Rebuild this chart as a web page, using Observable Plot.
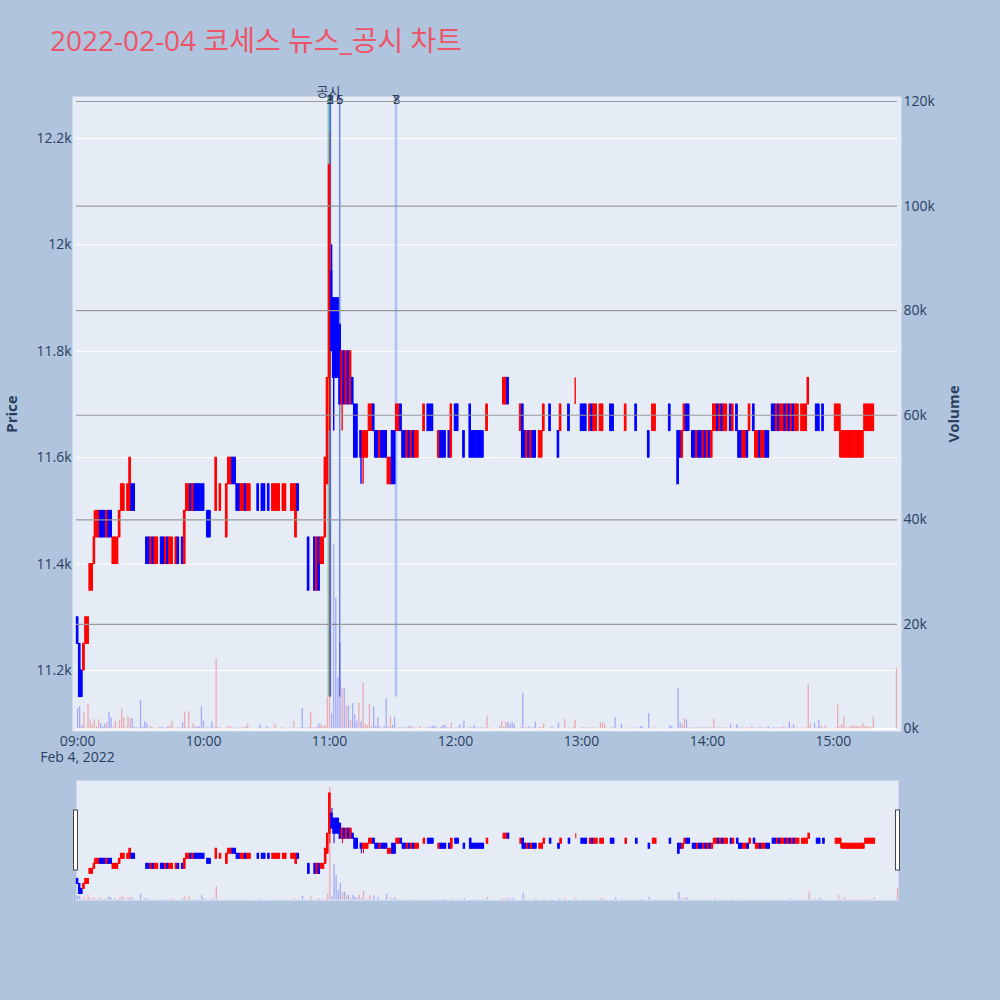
<!DOCTYPE html>
<html>
<head>
<meta charset="utf-8">
<script src="https://cdn.jsdelivr.net/npm/d3@7"></script>
<script src="https://cdn.jsdelivr.net/npm/@observablehq/plot@0.6"></script>
<style>
  body { margin: 0; background: #b0c4de; }
  #chart { position: relative; width: 1000px; height: 1000px; background: #b0c4de; font-family: "Open Sans", "Noto Sans CJK KR", sans-serif; }
  #title { position: absolute; left: 50px; top: 26px; font-size: 28px; line-height: 28px; color: #ee5468; white-space: nowrap; }
  .layer { position: absolute; left: 0; }
</style>
</head>
<body>
<div id="chart"><div id="title">2022-02-04 코세스 뉴스_공시 차트</div></div>
<script>
(() => {
// minute candles, index = minutes after 09:00 (09:00 .. 15:19)
const opens = [
  11300,11250,11200,11200,11250,11250,11350,11350,11400,11450,
  11450,11500,11500,11500,11450,11500,11500,11400,11400,11400,
  11450,11500,11500,11550,11500,11500,11550,11550,11500,11500,
  11450,11450,11450,11450,11450,11400,11450,11400,11400,11450,
  11450,11450,11400,11450,11400,11400,11450,11400,11450,11450,
  11450,11400,11500,11500,11550,11500,11550,11550,11550,11550,
  11550,11500,11500,11500,11450,11500,11500,11550,11500,11550,
  11550,11450,11550,11550,11600,11600,11550,11550,11500,11500,
  11550,11500,11500,11550,11550,11550,11550,11500,11550,11550,
  11500,11550,11500,11500,11500,11500,11500,11500,11500,11500,
  11500,11500,11500,11500,11450,11550,11450,11450,11450,11450,
  11450,11400,11400,11450,11350,11450,11400,11400,11450,11550,
  11750,11950,11900,11900,11900,11850,11700,11800,11700,11800,
  11700,11750,11700,11700,11650,11650,11600,11600,11600,11650,
  11650,11700,11650,11650,11600,11650,11650,11650,11550,11550,
  11650,11650,11650,11650,11700,11650,11650,11600,11650,11600,
  11650,11600,11600,11650,11650,11650,11700,11700,11700,11700,
  11650,11650,11600,11650,11650,11650,11600,11650,11600,11700,
  11700,11700,11650,11650,11650,11650,11700,11700,11650,11650,
  11650,11650,11650,11650,11650,11650,11650,11700,11700,11700,
  11700,11650,11700,11700,11700,11750,11700,11700,11700,11700,
  11700,11650,11700,11650,11600,11650,11600,11650,11650,11650,
  11600,11600,11650,11700,11700,11700,11650,11650,11650,11650,
  11650,11700,11700,11700,11700,11650,11700,11700,11700,11700,
  11700,11700,11700,11650,11650,11700,11650,11650,11700,11650,
  11650,11700,11700,11700,11700,11700,11650,11650,11650,11650,
  11650,11650,11650,11650,11650,11650,11700,11650,11650,11650,
  11650,11650,11650,11650,11650,11650,11700,11700,11650,11650,
  11650,11650,11700,11650,11650,11650,11650,11650,11600,11650,
  11700,11700,11650,11650,11650,11600,11650,11650,11600,11650,
  11600,11650,11600,11650,11650,11700,11650,11700,11650,11650,
  11700,11700,11650,11700,11700,11650,11650,11600,11600,11650,
  11650,11700,11700,11600,11600,11650,11600,11600,11650,11650,
  11650,11700,11700,11650,11700,11650,11650,11700,11650,11700,
  11650,11700,11650,11650,11700,11650,11650,11650,11700,11750,
  11700,11700,11700,11700,11700,11700,11700,11700,11700,11700,
  11700,11650,11650,11650,11600,11600,11600,11600,11600,11600,
  11600,11600,11600,11600,11600,11650,11650,11650,11650,11650
];
const closes = [
  11250,11150,11150,11250,11300,11300,11400,11400,11450,11500,
  11500,11450,11450,11450,11500,11450,11450,11450,11450,11450,
  11500,11550,11550,11550,11550,11600,11500,11500,11500,11500,
  11450,11450,11450,11400,11400,11450,11400,11450,11450,11450,
  11400,11400,11450,11400,11450,11450,11450,11450,11400,11450,
  11400,11500,11550,11550,11500,11550,11500,11500,11500,11500,
  11500,11500,11450,11450,11450,11500,11600,11550,11550,11550,
  11550,11550,11600,11600,11550,11550,11500,11500,11550,11550,
  11500,11550,11550,11550,11550,11550,11500,11500,11500,11500,
  11500,11500,11500,11550,11550,11550,11550,11500,11550,11550,
  11500,11500,11550,11550,11550,11500,11450,11450,11450,11450,
  11350,11400,11400,11350,11450,11350,11450,11450,11600,11750,
  12150,11800,11750,11750,11750,11700,11800,11700,11800,11700,
  11800,11700,11600,11600,11650,11600,11650,11650,11650,11700,
  11700,11650,11600,11600,11650,11600,11600,11600,11600,11600,
  11550,11550,11700,11700,11650,11600,11600,11650,11600,11650,
  11600,11650,11650,11650,11650,11700,11700,11650,11650,11650,
  11650,11650,11650,11600,11600,11600,11600,11600,11700,11700,
  11650,11650,11650,11650,11600,11650,11700,11600,11600,11600,
  11600,11600,11600,11600,11650,11700,11650,11700,11700,11700,
  11700,11650,11700,11750,11750,11700,11700,11700,11700,11700,
  11700,11700,11600,11600,11650,11600,11650,11600,11600,11650,
  11650,11650,11700,11700,11700,11650,11650,11650,11650,11600,
  11700,11700,11700,11700,11650,11650,11700,11700,11700,11700,
  11650,11650,11650,11650,11700,11650,11700,11700,11700,11700,
  11700,11700,11700,11700,11650,11650,11650,11650,11650,11650,
  11650,11700,11650,11650,11650,11650,11650,11650,11650,11650,
  11650,11650,11600,11650,11700,11700,11700,11700,11650,11650,
  11650,11650,11650,11650,11650,11650,11550,11600,11650,11700,
  11650,11650,11650,11600,11600,11650,11600,11600,11650,11600,
  11650,11600,11650,11700,11700,11650,11700,11650,11700,11700,
  11700,11650,11700,11700,11650,11600,11600,11650,11650,11600,
  11700,11700,11650,11650,11650,11600,11650,11650,11600,11600,
  11650,11650,11650,11700,11650,11700,11700,11650,11700,11650,
  11700,11650,11700,11700,11700,11700,11700,11700,11750,11750,
  11700,11700,11650,11650,11700,11650,11700,11700,11700,11700,
  11700,11700,11700,11700,11650,11650,11650,11650,11650,11650,
  11650,11650,11650,11650,11650,11700,11700,11700,11700,11700
];
const volumes = [
  3900,4300,600,3100,200,4700,1700,800,1700,400,
  1800,1000,400,900,1300,3200,2100,300,1500,200,
  1700,3800,2200,300,2400,1900,2000,400,200,200,
  5500,400,1400,1000,200,500,200,100,200,300,
  300,200,200,500,600,1500,200,200,200,200,
  1200,3200,200,3300,200,900,400,400,400,4300,
  1500,200,200,200,1300,200,13400,300,200,100,
  100,200,500,400,200,100,200,100,200,200,
  400,900,200,100,100,100,200,800,200,100,
  400,200,100,200,900,200,100,200,200,100,
  100,200,200,1500,200,200,200,3900,200,100,
  300,3200,200,200,500,1000,800,400,600,6000,
  114000,3000,35400,25000,9800,16500,7700,7800,4400,4400,
  1500,4900,2700,1500,4900,1400,8800,900,600,4700,
  500,4200,500,2200,400,200,400,5800,400,2300,
  700,2200,200,300,200,200,200,200,500,400,
  200,200,200,500,100,200,200,200,400,500,
  600,200,200,300,600,700,200,200,1100,100,
  200,200,800,200,1500,100,200,300,200,600,
  200,200,200,200,200,2500,200,100,100,100,
  100,400,1500,300,1300,1300,800,1300,800,100,
  100,300,6800,200,200,400,200,200,1300,100,
  300,200,1000,100,100,200,400,100,100,1100,
  200,100,1800,100,200,100,400,1700,100,100,
  200,200,200,100,300,200,200,200,100,1200,
  1200,900,100,100,200,200,2200,100,100,900,
  100,200,100,100,200,100,200,100,500,500,
  100,100,2900,100,200,200,100,100,200,100,
  100,100,600,500,100,100,7800,1300,800,2000,
  1700,200,100,200,200,200,200,200,200,200,
  200,200,200,1800,200,200,200,200,200,200,
  100,900,200,100,800,200,200,200,200,200,
  200,400,200,200,200,400,200,200,200,400,
  100,200,200,200,200,200,400,200,200,1300,
  200,800,200,200,100,200,200,200,8500,800,
  100,1100,200,1700,600,200,600,100,100,100,
  100,200,4600,400,800,2300,200,200,500,500,
  600,500,400,500,1000,500,500,400,300,2300
];
// shadows that reach past the body
const wickMinutes = [8, 120, 121, 122, 126, 135, 136, 237, 363];
const wickHighs   = [11500, 12150, 12000, 11900, 11800, 11650, 11650, 11750, 11700];
const wickLows    = [11400, 11650, 11800, 11650, 11650, 11550, 11550, 11700, 11600];
// 15:30 closing auction
const auctionMinute = 390;
const auctionPrice = 11700;
const auctionVolume = 11500;

// disclosure / news markers (minutes after 09:00)
const disclosureMinutes = [119.5];
const disclosureLabels = ["공시"];
const newsMinutes = [120.2, 120.3, 120.4, 120.5, 124.8, 124.9, 151.4, 152.0];
const newsLabels = ["1", "2", "3", "4", "5", "6", "7", "8"];
const newsColors = ["rgba(65,105,225,0.6)", "rgba(65,105,225,0.6)", "rgba(65,105,225,0.6)", "rgba(65,105,225,0.6)",
                    "rgba(65,105,225,0.55)", "rgba(65,105,225,0.55)", "rgba(100,149,237,0.45)", "rgba(100,149,237,0.45)"];

const tradeDate = new Date(2022, 1, 4);
const hourTicks = [0, 60, 120, 180, 240, 300, 360];
const priceTicks = [11200, 11400, 11600, 11800, 12000, 12200];
const volumeTicks = [0, 20000, 40000, 60000, 80000, 100000, 120000];

const X_DOMAIN = [-0.5, 390.5];
const PRICE_DOMAIN = [11085.3, 12278.9];
const VOLUME_DOMAIN = [-478, 120956];
const FONT = '"Open Sans", "Noto Sans CJK KR", sans-serif';
const INK = "#2a3f5f";
const UP = "#ff0000", DOWN = "#0000ff";

const candles = opens.map((o, m) => ({m, open: o, close: closes[m], volume: volumes[m]}));
candles.push({m: auctionMinute, open: auctionPrice, close: auctionPrice, volume: auctionVolume});
let prevClose = null, prevUp = false;
for (const d of candles) {
  const w = wickMinutes.indexOf(d.m);
  d.high = w >= 0 ? wickHighs[w] : Math.max(d.open, d.close);
  d.low = w >= 0 ? wickLows[w] : Math.min(d.open, d.close);
  if (d.close !== d.open) d.up = d.close > d.open;
  else d.up = prevClose === null ? false : d.close === prevClose ? prevUp : d.close > prevClose;
  prevClose = d.close; prevUp = d.up;
}
const dayLow = d3.min(candles, d => d.low);
const disclosures = disclosureMinutes.map((m, i) => ({m, label: disclosureLabels[i]}));
const news = newsMinutes.map((m, i) => ({m, label: newsLabels[i], color: newsColors[i]}));

const dateLabel = d3.timeFormat("%b %-d, %Y")(tradeDate);
const hourLabel = m => {
  const hh = String(9 + m / 60).padStart(2, "0") + ":00";
  return m === 0 ? hh + "\n" + dateLabel : hh;
};
const candleColor = d => d.up ? UP : DOWN;

function candleMarks(wickWidth) {
  return [
    Plot.ruleX(candles, {x: "m", y1: "low", y2: "high", stroke: candleColor, strokeWidth: wickWidth}),
    Plot.rect(candles, {x1: d => d.m - 0.36, x2: d => d.m + 0.36, y1: "open", y2: "close",
      fill: candleColor, stroke: candleColor, strokeWidth: 1})
  ];
}
function volumeMarks() {
  return Plot.ruleX(candles, {x: "m", y1: 0, y2: "volume", stroke: candleColor, strokeOpacity: 0.28, strokeWidth: 1.3});
}

const base = {
  width: 1000, marginLeft: 76,
  style: {background: "transparent", fontFamily: FONT, fontSize: "14px", color: INK, overflow: "visible"},
  x: {domain: X_DOMAIN, axis: null},
  color: {type: "identity"}
};
const mainDims = {height: 780, marginTop: 96, marginBottom: 49, marginRight: 103};

const pricePlot = Plot.plot({
  ...base, ...mainDims,
  y: {domain: PRICE_DOMAIN, axis: null},
  marks: [
    Plot.frame({fill: "#e5ecf6", stroke: null, insetLeft: -4, insetRight: -4}),
    Plot.ruleY(priceTicks, {stroke: "#ffffff", strokeWidth: 1}),
    Plot.axisY(priceTicks, {tickFormat: "~s", tickSize: 0, tickPadding: 5, fill: INK,
      label: "Price", labelAnchor: "center", labelOffset: 70, labelArrow: "none"}),
    Plot.axisX(hourTicks, {tickFormat: hourLabel, tickSize: 0, tickPadding: 4, fill: INK, label: null, lineHeight: 1.1}),
    Plot.ruleX(disclosures, {x: "m", y1: dayLow, y2: PRICE_DOMAIN[1], stroke: "rgba(60,179,113,0.55)", strokeWidth: 2}),
    Plot.ruleX(news, {x: "m", y1: dayLow, y2: PRICE_DOMAIN[1], stroke: "color", strokeWidth: 1.3}),
    ...candleMarks(1.4),
    Plot.text(disclosures, {x: "m", frameAnchor: "top", text: "label", dy: -10, fontSize: 13, fill: INK}),
    Plot.text(news, {x: "m", frameAnchor: "top", text: "label", dy: -1.5, fontSize: 13, fill: INK})
  ]
});

const volumePlot = Plot.plot({
  ...base, ...mainDims,
  y: {domain: VOLUME_DOMAIN, axis: null},
  marks: [
    Plot.ruleY(volumeTicks.filter(v => v > 0), {stroke: "#9a9a9a", strokeWidth: 1.2}),
    Plot.ruleY([0], {stroke: "#ffffff", strokeWidth: 2}),
    volumeMarks(),
    Plot.axisY(volumeTicks, {anchor: "right", tickFormat: "~s", tickSize: 0, tickPadding: 6, fill: INK,
      label: "Volume", labelAnchor: "center", labelOffset: 61, labelArrow: "none"})
  ]
});

const sliderDims = {height: 140, marginTop: 10, marginBottom: 10, marginRight: 102};
const sliderPrice = Plot.plot({
  ...base, ...sliderDims,
  y: {domain: PRICE_DOMAIN, axis: null},
  marks: [
    Plot.frame({fill: "#e5ecf6", stroke: null}),
    ...candleMarks(1)
  ]
});
const sliderVolume = Plot.plot({
  ...base, ...sliderDims,
  y: {domain: VOLUME_DOMAIN, axis: null},
  marks: [volumeMarks()]
});

// range-slider grips at both ends of the x range
const sx = sliderPrice.scale("x");
d3.select(sliderPrice).selectAll("rect.grip")
  .data(X_DOMAIN)
  .join("rect")
  .attr("class", "grip")
  .attr("x", d => sx.apply(d) - 2.5)
  .attr("y", 40).attr("width", 4).attr("height", 60)
  .attr("fill", "#ffffff").attr("stroke", "#444").attr("stroke-width", 1);

// axis titles: bold, no direction arrow
for (const svg of [pricePlot, volumePlot]) {
  d3.select(svg).selectAll('[aria-label="y-axis label"] text')
    .text(function() { return this.textContent.replace(/[←↑→↓]/g, "").trim(); })
    .attr("font-weight", "bold").attr("font-size", 15).attr("fill", INK);
}

const root = document.getElementById("chart");
const place = (svg, top) => { svg.classList.add("layer"); svg.style.top = top + "px"; root.appendChild(svg); };
place(pricePlot, 0);
place(volumePlot, 0);
place(sliderPrice, 770);
place(sliderVolume, 770);
})();
</script>
</body>
</html>
